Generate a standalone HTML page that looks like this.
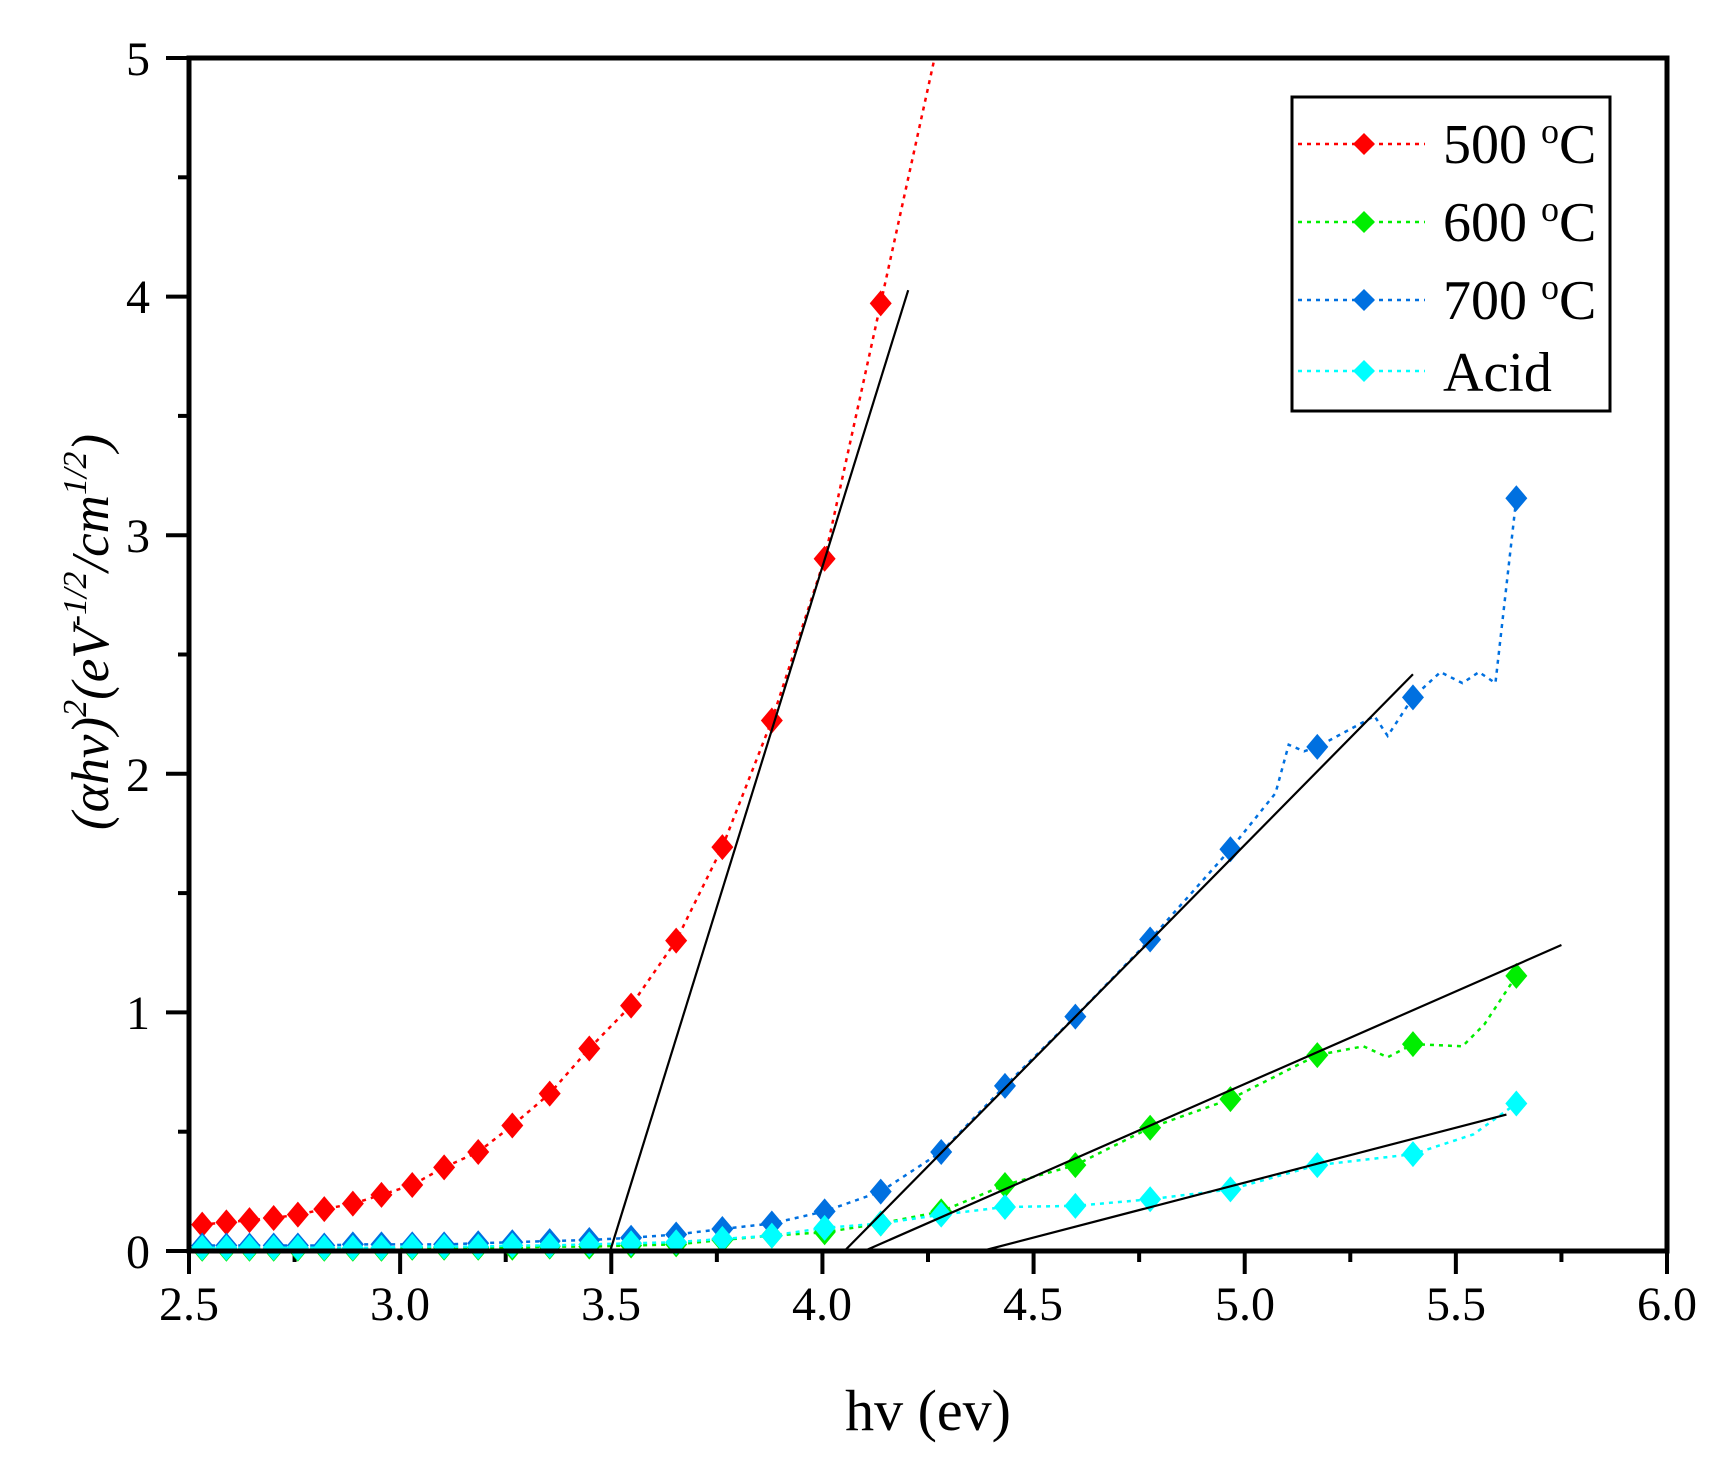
<!DOCTYPE html>
<html><head><meta charset="utf-8"><style>
html,body{margin:0;padding:0;background:#fff}
svg{display:block}
text{font-family:"Liberation Serif",serif;fill:#000}
</style></head><body>
<svg id="s" width="1727" height="1458" viewBox="0 0 1727 1458" xmlns="http://www.w3.org/2000/svg">
<rect width="1727" height="1458" fill="#fff"/>
<g id="ticks" stroke="#000" stroke-width="4"></g>
<g id="data"></g>
<rect x="189" y="58" width="1478" height="1193" fill="none" stroke="#000" stroke-width="5"/>
<g font-size="48" text-anchor="middle">
<text x="189" y="1320">2.5</text><text x="400" y="1320">3.0</text><text x="611" y="1320">3.5</text>
<text x="822" y="1320">4.0</text><text x="1033" y="1320">4.5</text><text x="1245" y="1320">5.0</text>
<text x="1456" y="1320">5.5</text><text x="1667" y="1320">6.0</text>
</g>
<g font-size="48" text-anchor="end">
<text x="150" y="1268">0</text><text x="150" y="1029">1</text><text x="150" y="791">2</text>
<text x="150" y="552">3</text><text x="150" y="313">4</text><text x="150" y="75">5</text>
</g>
<text x="928" y="1430" font-size="58" text-anchor="middle">hv (ev)</text>
<text transform="translate(108,632) rotate(-90)" font-size="53" font-style="italic" text-anchor="middle">(αhv)<tspan font-size="34" dy="-22">2</tspan><tspan dy="22">(eV</tspan><tspan font-size="34" dy="-22">-1/2</tspan><tspan dy="22">/cm</tspan><tspan font-size="34" dy="-22">1/2</tspan><tspan dy="22">)</tspan></text>
<rect x="1292" y="97" width="318" height="314" fill="#fff" stroke="#000" stroke-width="3"/>
<g font-size="56">
<text x="1443" y="163">500 <tspan font-size="36" dy="-20">o</tspan><tspan dy="20">C</tspan></text>
<text x="1443" y="241">600 <tspan font-size="36" dy="-20">o</tspan><tspan dy="20">C</tspan></text>
<text x="1443" y="319">700 <tspan font-size="36" dy="-20">o</tspan><tspan dy="20">C</tspan></text>
<text x="1443" y="391">Acid</text>
</g>
<g id="leg"></g>
</svg>
<script>
var NS="http://www.w3.org/2000/svg";
function X(p){return 189+(p-172)*1.0997}
function Y(p){return 1251-(1136-p)*1.1006}
function el(t,a,par){var e=document.createElementNS(NS,t);for(var k in a)e.setAttribute(k,a[k]);par.appendChild(e);return e}
var tk=document.getElementById('ticks');
for(var i=0;i<=14;i++){var x=189+i*1478/14;el('line',{x1:x,y1:1251,x2:x,y2:1251+(i%2?11:23)},tk)}
for(var i=0;i<=10;i++){var y=1251-i*1193/10;el('line',{x1:189,y1:y,x2:189-(i%2?11:23),y2:y},tk)}
var ex=[184,206,227,249,271,295,321,347,375,404,435,466,500,536,574,615];
function mk(ys){return ys.map(function(y,i){return [ex[i],y]})}
var red=[[184,1112],[206,1110],[227,1108],[249,1106],[271,1103],[295,1098],[321,1093],[347,1085],[375,1076],[404,1060],[435,1046],[466,1022],[500,993],[536,952],[574,913],[615,854],[657,769],[702,654],[750,507],[801,275]];
var blue=mk([1131,1131,1131,1131,1131,1131,1130,1130,1130,1130,1129,1128,1127,1126,1124,1121]).concat([[657,1116],[702,1111],[750,1100],[801,1082],[856,1046],[914,986],[978,923],[1046,853],[1119,771],[1198,678],[1285,633],[1379,452]]);
var green=mk([1134,1134,1134,1134,1134,1134,1134,1134,1133,1133,1133,1133,1132,1132,1131,1130]).concat([[657,1126],[702,1122],[750,1119],[801,1111],[856,1100],[914,1076],[978,1058],[1046,1024],[1119,998],[1198,958],[1285,948],[1379,886]]);
var cyan=mk([1133,1133,1133,1133,1133,1133,1133,1133,1132,1132,1132,1131,1131,1130,1129,1128]).concat([[657,1125],[702,1122],[750,1115],[801,1111],[856,1103],[914,1096],[978,1095],[1046,1089],[1119,1080],[1198,1058],[1285,1048],[1379,1002]]);
var g=document.getElementById('data');
var fits=[[555,1136,826,263],[768,1136,1285,612],[786,1136,1420,858],[893,1136,1370,1012]];
function series(pts,col,extra){
 var all=pts.slice();if(extra)all=all.concat(extra);
 all.sort(function(a,b){return a[0]-b[0]});
 el('polyline',{points:all.map(function(p){return X(p[0])+','+Y(p[1])}).join(' '),fill:'none',stroke:col,'stroke-width':2.5,'stroke-dasharray':'4 5'},g);
}
function markers(pts,col){pts.forEach(function(p){var x=X(p[0]),y=Y(p[1]);el('polygon',{points:(x-11)+','+y+' '+x+','+(y-13)+' '+(x+11)+','+y+' '+x+','+(y+13),fill:col},g)})}
series(red,'#ff0000',[[850,52]]);
series(blue,'#0070e0',[[1160,720],[1172,676],[1186,682],[1250,650],[1262,668],[1310,610],[1330,620],[1345,610],[1360,620]]);
series(green,'#00ee00',[[1240,950],[1262,960],[1330,950],[1350,930]]);
series(cyan,'#00ffff',[[1340,1030]]);
markers(red,'#ff0000');markers(green,'#00ee00');markers(blue,'#0070e0');markers(cyan,'#00ffff');
fits.forEach(function(f){el('line',{x1:X(f[0]),y1:Y(f[1]),x2:X(f[2]),y2:Y(f[3]),stroke:'#000','stroke-width':2.2},g)});
var lg=document.getElementById('leg');
[['#ff0000',144],['#00ee00',222],['#0070e0',300],['#00ffff',371]].forEach(function(r){
 el('line',{x1:1298,y1:r[1],x2:1425,y2:r[1],stroke:r[0],'stroke-width':2.5,'stroke-dasharray':'4 5'},lg);
 var x=1364,y=r[1];el('polygon',{points:(x-11)+','+y+' '+x+','+(y-11)+' '+(x+11)+','+y+' '+x+','+(y+11),fill:r[0]},lg);
});
</script>
</body></html>
